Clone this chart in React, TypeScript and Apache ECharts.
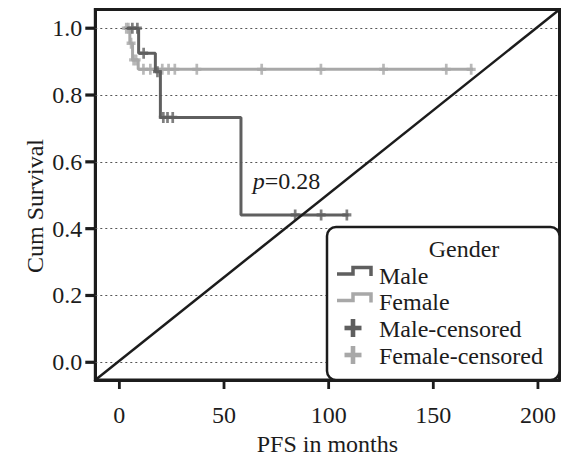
import React, { useEffect, useRef } from "react";
import * as echarts from "echarts";

const xTicks = [0, 50, 100, 150, 200];
const yTicks = [0, 0.2, 0.4, 0.6, 0.8, 1.0];
const X_MIN = -11.5;
const X_MAX = 210.3;
const Y_MIN = -0.053;
const Y_MAX = 1.056;

const maleTimes = [3.5, 9.2, 17.2, 19.6, 58.1, 109.5];
const maleSurv = [1.0, 0.925, 0.87, 0.733, 0.441, 0.441];
const femaleTimes = [2, 5, 6.3, 9.0, 169];
const femaleSurv = [1.0, 0.955, 0.905, 0.877, 0.877];

const maleCensorTimes = [6.2, 8.6, 11.6, 18.2, 21, 23, 25.5, 84, 96.4, 108.7];
const maleCensorSurv = [1.0, 1.0, 0.925, 0.87, 0.733, 0.733, 0.733, 0.441, 0.441, 0.441];
const femaleCensorTimes = [3.3, 4.3, 5.6, 6.8, 8.0, 11.5, 14.8, 20.5, 23.5, 26.5, 37, 68, 96.3, 126.2, 156.2, 168.1];
const femaleCensorSurv = [1.0, 1.0, 0.955, 0.905, 0.905, 0.877, 0.877, 0.877, 0.877, 0.877, 0.877, 0.877, 0.877, 0.877, 0.877, 0.877];

const MALE_COLOR = "#5f5f5f";
const FEMALE_COLOR = "#a8a8a8";
const INK = "#1c1c1c";
const FONT = "Liberation Serif";
const FS = 24;
const PLUS = "path://M3.5,0H6.5V10H3.5Z M0,3.5H10V6.5H0Z";

const zip = (a: number[], b: number[]) => a.map((v, i) => [v, b[i]]);

export default function App() {
  const ref = useRef<HTMLDivElement>(null);
  useEffect(() => {
    if (!ref.current) return;
    const chart = echarts.init(ref.current, null, { renderer: "svg" });
    const legendText = (text: string, x: number, y: number, align = "left") => ({
      type: "text",
      z: 101,
      x,
      y,
      style: { text, fill: INK, fontSize: FS, fontFamily: FONT, align, verticalAlign: "middle" },
    });
    const plusIcon = (cx: number, cy: number, color: string) => ({
      type: "group",
      z: 101,
      children: [
        { type: "rect", z: 101, shape: { x: cx - 2.3, y: cy - 9, width: 4.6, height: 18 }, style: { fill: color } },
        { type: "rect", z: 101, shape: { x: cx - 8.5, y: cy - 2.3, width: 17, height: 4.6 }, style: { fill: color } },
      ],
    });
    const stepIcon = (y: number, color: string) => ({
      type: "polyline",
      z: 101,
      shape: { points: [[337, y], [353, y], [353, y - 6.5], [371, y - 6.5], [371, y + 2]] },
      style: { stroke: color, lineWidth: 3.5, fill: null },
    });
    const baseGraphic: any[] = [
      {
        type: "text",
        x: 35,
        y: 206,
        rotation: Math.PI / 2,
        style: { text: "Cum Survival", fill: INK, fontSize: FS, fontFamily: FONT, align: "center", verticalAlign: "middle" },
      },
      {
        type: "text",
        x: 252.7,
        y: 181,
        z: 50,
        style: {
          text: "{i|p}=0.28",
          fill: INK,
          fontSize: FS,
          fontFamily: FONT,
          verticalAlign: "middle",
          rich: { i: { fontStyle: "italic", fontSize: FS, fontFamily: FONT, fill: INK } },
        },
      },
      {
        type: "rect",
        z: 100,
        shape: { x: 327, y: 227, width: 232.5, height: 153, r: 9 },
        style: { fill: "#fff", stroke: INK, lineWidth: 2.5 },
      },
      legendText("Gender", 464, 249, "center"),
      stepIcon(274, MALE_COLOR),
      legendText("Male", 379, 276),
      stepIcon(300.5, FEMALE_COLOR),
      legendText("Female", 379, 302),
      plusIcon(353, 328, MALE_COLOR),
      legendText("Male-censored", 379, 329),
      plusIcon(353, 355, FEMALE_COLOR),
      legendText("Female-censored", 379, 356),
    ];
    chart.setOption({
      animation: false,
      textStyle: { fontFamily: FONT },
      grid: {
        left: 95.3,
        top: 9.5,
        right: 1.5,
        bottom: 75,
        show: true,
        borderColor: INK,
        borderWidth: 3,
        outerBoundsMode: "none",
        containLabel: false,
      },
      xAxis: {
        type: "value",
        min: X_MIN,
        max: X_MAX,
        axisLine: { show: true, onZero: false, lineStyle: { color: INK, width: 3 } },
        splitLine: { show: false },
        axisTick: { show: false },
        axisLabel: { customValues: xTicks, margin: 23, color: INK, fontSize: FS, fontFamily: FONT },
        name: "PFS in months",
        nameLocation: "middle",
        nameGap: 45,
        nameTextStyle: { color: INK, fontSize: FS, fontFamily: FONT, lineHeight: 24 },
      },
      yAxis: {
        type: "value",
        min: Y_MIN,
        max: Y_MAX,
        axisLine: { show: true, onZero: false, lineStyle: { color: INK, width: 3 } },
        splitLine: { show: false },
        axisTick: { show: false },
        axisLabel: {
          customValues: yTicks,
          margin: 13,
          color: INK,
          fontSize: FS,
          fontFamily: FONT,
          formatter: (v: number) => v.toFixed(1),
        },
      },
      series: [
        {
          type: "line",
          data: [],
          z: 1,
          silent: true,
          markLine: {
            silent: true,
            symbol: "none",
            label: { show: false },
            lineStyle: { color: "#555", type: [2, 3], width: 1 },
            data: yTicks.map((v) => ({ yAxis: v })),
          },
        },
        {
          name: "Female",
          type: "line",
          step: "end",
          z: 2,
          showSymbol: false,
          symbol: "none",
          data: zip(femaleTimes, femaleSurv),
          lineStyle: { color: FEMALE_COLOR, width: 3 },
          itemStyle: { color: FEMALE_COLOR },
        },
        {
          name: "Female-censored",
          type: "scatter",
          z: 2,
          symbol: PLUS,
          symbolSize: [9, 11],
          data: zip(femaleCensorTimes, femaleCensorSurv),
          itemStyle: { color: FEMALE_COLOR },
        },
        {
          name: "Male",
          type: "line",
          step: "end",
          z: 3,
          showSymbol: false,
          symbol: "none",
          data: zip(maleTimes, maleSurv),
          lineStyle: { color: MALE_COLOR, width: 3 },
          itemStyle: { color: MALE_COLOR },
        },
        {
          name: "Male-censored",
          type: "scatter",
          z: 3,
          symbol: PLUS,
          symbolSize: [9, 11],
          data: zip(maleCensorTimes, maleCensorSurv),
          itemStyle: { color: MALE_COLOR },
        },
        {
          name: "Reference",
          type: "line",
          z: 5,
          symbol: "none",
          data: [[X_MIN, Y_MIN], [X_MAX, Y_MAX]],
          lineStyle: { color: INK, width: 2.5 },
        },
      ],
    });
    const tickEls: any[] = [];
    xTicks.forEach((v) => {
      const p = chart.convertToPixel({ gridIndex: 0 }, [v, Y_MIN]) as number[];
      tickEls.push({
        type: "rect",
        z: 90,
        shape: { x: p[0] - 1.4, y: p[1], width: 2.8, height: 9 },
        style: { fill: INK },
      });
    });
    yTicks.forEach((v) => {
      const p = chart.convertToPixel({ gridIndex: 0 }, [X_MIN, v]) as number[];
      tickEls.push({
        type: "rect",
        z: 90,
        shape: { x: p[0] - 10, y: p[1] - 1.6, width: 10, height: 3.2 },
        style: { fill: INK },
      });
    });
    chart.setOption({ graphic: [...baseGraphic, ...tickEls] });
    return () => chart.dispose();
  }, []);
  return <div ref={ref} style={{ width: 561, height: 455, position: "absolute", left: 0, top: 0 }} />;
}
